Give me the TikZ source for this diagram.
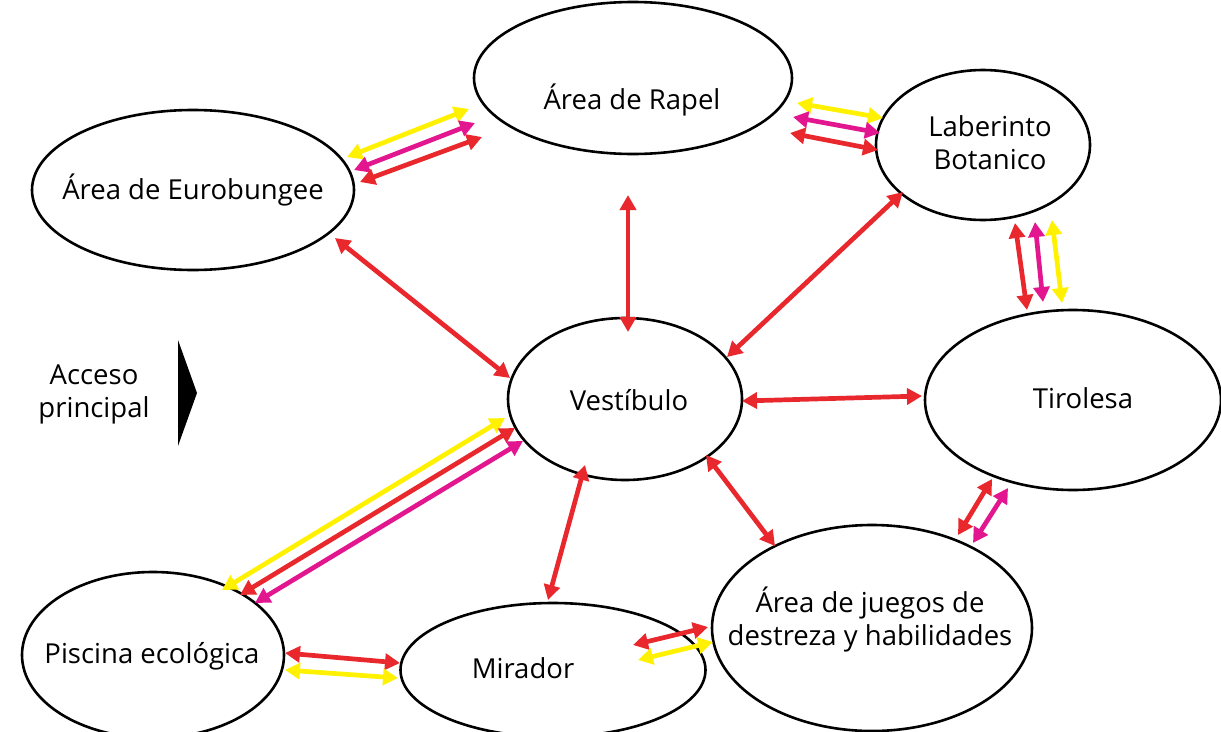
\documentclass[tikz,border=0pt]{standalone}
\usepackage{fontspec}
\setmainfont{Open Sans}
\usetikzlibrary{shapes.geometric,arrows.meta}
\definecolor{ared}{HTML}{E8282C}
\definecolor{amag}{HTML}{E2168F}
\definecolor{ayel}{HTML}{FFF100}
\tikzset{
  area/.style={draw=black, line width=2.6pt, ellipse, inner sep=0pt},
  lbl/.style={font=\fontsize{27.5}{33}\selectfont, align=center, inner sep=0pt},
  biarr/.style={line width=4.7pt, {Triangle[length=15pt,width=16pt]}-{Triangle[length=15pt,width=16pt]}},
  redarr/.style={biarr, draw=ared},
  magarr/.style={biarr, draw=amag},
  yelarr/.style={biarr, draw=ayel}
}
\begin{document}
\begin{tikzpicture}[x=1pt,y=-1pt]
\useasboundingbox (0,0) rectangle (1221,731);
% areas
\node[area, minimum width=318pt, minimum height=152pt] (rapel) at (633,78) {};
\node[area, minimum width=214pt, minimum height=150pt] (laber) at (983,145) {};
\node[area, minimum width=322pt, minimum height=160pt] (euro) at (193,190) {};
\node[area, minimum width=234pt, minimum height=162pt] (vest) at (625,399) {};
\node[area, minimum width=296pt, minimum height=180pt] (tiro) at (1073,400) {};
\node[area, minimum width=320pt, minimum height=206pt] (juegos) at (872,628) {};
\node[area, minimum width=305pt, minimum height=134pt] (mira) at (553,670) {};
\node[area, minimum width=262pt, minimum height=166pt] (pisc) at (153,655) {};
% labels
\node[lbl] (rapelt) at (632,100) {Área de Rapel};
\node[lbl] (labert) at (990,143) {Laberinto\\Botanico};
\node[lbl] (eurot) at (193,190) {Área de Eurobungee};
\node[lbl] (vestt) at (629,400) {Vestíbulo};
\node[lbl] (tirot) at (1083,398) {Tirolesa};
\node[lbl] (juegost) at (870,619) {Área de juegos de\\destreza y habilidades};
\node[lbl] (mirat) at (523,668) {Mirador};
\node[lbl] (pisct) at (152,656) {Piscina ecológica};
\node[lbl] (acceso) at (94,394) {Acceso\\principal};
\fill[black] (178,340) -- (197,393) -- (178,446) -- cycle;
% Eurobungee - Rapel
\draw[yelarr] (347,157) -- (469,109);
\draw[magarr] (354,170) -- (475,123);
\draw[redarr] (360,182) -- (482,137);
% Rapel - Laberinto
\draw[yelarr] (797,103) -- (883,118);
\draw[magarr] (793,117) -- (880,133);
\draw[redarr] (790,133) -- (878,150);
% Laberinto - Tirolesa
\draw[redarr] (1015,223) -- (1027,310);
\draw[magarr] (1035,222) -- (1043,302);
\draw[yelarr] (1052,220) -- (1062,303);
% Vestibulo - Piscina
\draw[yelarr] (505,418) -- (222,590);
\draw[redarr] (515,428) -- (240,595);
\draw[magarr] (523,441) -- (255,603);
% Piscina - Mirador
\draw[redarr] (285,653) -- (400,663);
\draw[yelarr] (285,670) -- (398,678);
% Mirador - Juegos
\draw[redarr] (633,645) -- (708,627);
\draw[yelarr] (638,660) -- (713,642);
% Tirolesa - Juegos
\draw[redarr] (992,479) -- (958,535);
\draw[magarr] (1008,488) -- (973,543);
% single red
\draw[redarr] (335,238) -- (510,378);
\draw[redarr] (628,195) -- (628,332);
\draw[redarr] (903,192) -- (727,357);
\draw[redarr] (742,401) -- (922,396);
\draw[redarr] (585,465) -- (548,600);
\draw[redarr] (706,455) -- (775,546);
\end{tikzpicture}
\end{document}
